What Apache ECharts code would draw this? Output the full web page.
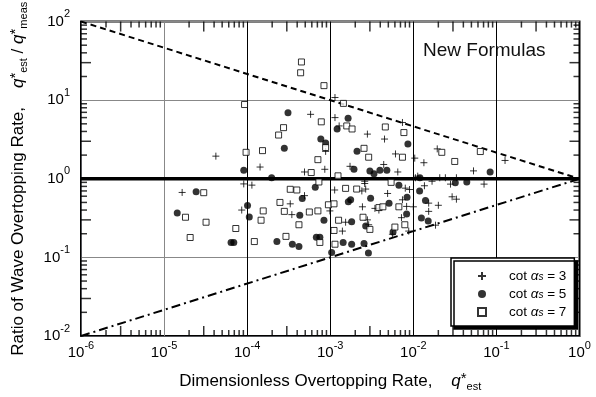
<!DOCTYPE html>
<html>
<head>
<meta charset="utf-8">
<script src="https://cdn.jsdelivr.net/npm/echarts@6/dist/echarts.min.js"></script>
<style>
html, body { margin: 0; padding: 0; background: #fff; }
#chart { width: 596px; height: 397px; }
</style>
</head>
<body>
<div id="chart"></div>
<script>
// --- data: [q*est, q*est/q*meas] ---
const cotValues = [3, 5, 7]

const cot3Points = [
  [4.2e-5, 1.94], [1.43e-4, 1.41], [9.1e-5, 0.86], [1.14e-4, 0.83], [1.65e-5, 0.67],
  [8.6e-5, 0.40], [5.8e-4, 6.6], [1.14e-3, 10.8], [1.14e-3, 6.0], [1.28e-3, 4.7],
  [2.8e-3, 3.7], [4.5e-3, 3.2], [7.4e-3, 5.2], [1.94e-2, 2.4], [6.1e-3, 2.07],
  [0.127, 1.71], [1.04e-2, 1.83], [1.34e-2, 1.6], [4.9e-4, 1.22], [8.6e-4, 1.32],
  [1.13e-3, 0.72], [2.4e-3, 0.70], [2.67e-3, 0.74], [2.6e-3, 0.93], [4.9e-4, 0.61],
  [3.3e-4, 0.48], [3.45e-4, 0.35], [9.9e-4, 0.39], [2.44e-3, 0.44], [3.45e-3, 0.42],
  [3.85e-3, 0.40], [1.4e-3, 0.216], [1.53e-3, 0.28], [2.8e-3, 0.30], [2.9e-3, 0.26],
  [6.5e-3, 1.22], [5.3e-2, 1.26], [1.06e-2, 1.03], [1.68e-2, 0.93], [2.08e-2, 1.03],
  [2.43e-2, 1.03], [2.8e-2, 0.855], [7.1e-2, 0.855], [1.36e-2, 0.815], [8.0e-3, 0.76],
  [9.0e-3, 0.73], [2.93e-2, 0.59], [3.3e-2, 0.55], [2.0e-2, 0.46], [1.53e-2, 0.49],
  [7.4e-3, 0.54], [8.3e-3, 0.445], [1.0e-2, 0.44], [7.2e-3, 0.32], [1.53e-2, 0.385],
  [5.6e-3, 0.197], [1.85e-2, 0.257], [2.6e-3, 0.87], [4.9e-3, 0.65], [8.8e-3, 0.216],
  [1.13e-2, 1.08], [3.3e-2, 1.03], [1.73e-3, 1.44], [8.8e-4, 2.23], [4.4e-3, 1.52]
]

const cot5Points = [
  [3.1e-4, 6.9], [1.64e-3, 5.9], [1.21e-3, 4.3], [7.7e-4, 3.2], [8.8e-4, 2.85],
  [2.8e-4, 2.44], [2.1e-3, 2.24], [8.6e-3, 2.77], [9.1e-5, 1.28], [1.97e-4, 1.03],
  [2.43e-5, 0.685], [1.44e-5, 0.367], [1.01e-4, 0.458], [1.06e-4, 0.327], [6.4e-5, 0.155],
  [6.9e-5, 0.155], [1.93e-3, 1.32], [3.0e-3, 1.26], [3.36e-3, 1.16], [3.96e-3, 1.28],
  [4.8e-3, 1.28], [6.6e-4, 0.78], [4.6e-4, 0.56], [1.76e-3, 0.54], [1.65e-3, 0.51],
  [3.06e-3, 0.566], [4.3e-4, 0.343], [8.4e-4, 0.297], [1.81e-3, 0.283], [2.67e-3, 0.25],
  [6.8e-4, 0.18], [7.5e-4, 0.18], [2.28e-4, 0.159], [3.5e-4, 0.147], [4.2e-4, 0.138],
  [1.43e-3, 0.155], [1.81e-3, 0.147], [2.55e-3, 0.15], [1.04e-3, 0.115], [2.88e-3, 0.114],
  [8.4e-2, 1.22], [6.7e-3, 0.83], [5.1e-3, 0.49], [1.19e-2, 0.70], [3.2e-2, 0.89],
  [4.4e-2, 0.91], [8.4e-3, 0.58], [1.4e-2, 0.53], [8.3e-3, 0.357], [1.25e-2, 0.318],
  [1.51e-2, 0.29], [5.7e-3, 0.21], [1.2e-2, 1.03]
]

const cot7Points = [
  [4.5e-4, 30.6], [4.4e-4, 22.3], [8.4e-4, 15.3], [1.44e-3, 9.1], [9.3e-5, 8.8],
  [7.8e-4, 5.3], [2.74e-4, 4.47], [2.39e-4, 3.6], [1.58e-3, 4.7], [1.83e-3, 4.3],
  [8.8e-4, 2.5], [2.55e-3, 2.44], [4.6e-3, 4.56], [7.7e-3, 3.87], [2.2e-2, 2.17],
  [6.4e-2, 2.22], [3.15e-2, 1.66], [9.7e-5, 2.17], [1.53e-4, 2.28], [3.0e-5, 0.665],
  [1.81e-5, 0.324], [3.2e-5, 0.28], [2.06e-5, 0.179], [7.3e-5, 0.233], [1.22e-4, 0.159],
  [1.47e-4, 0.297], [1.56e-4, 0.39], [7.1e-4, 1.75], [5.9e-4, 1.2], [7.3e-4, 0.91],
  [1.24e-3, 1.09], [3.3e-4, 0.735], [3.96e-4, 0.72], [1.53e-3, 0.755], [2.08e-3, 0.74],
  [2.48e-4, 0.5], [2.8e-4, 0.385], [5.6e-4, 0.378], [7.1e-4, 0.39], [4.2e-4, 0.26],
  [9.5e-4, 0.467], [1.11e-3, 0.48], [1.26e-3, 0.297], [1.11e-3, 0.22], [2.93e-4, 0.185],
  [7.5e-4, 0.155], [1.14e-3, 0.147], [2.48e-3, 0.324], [3.0e-3, 0.227], [3.85e-3, 0.43],
  [4.3e-3, 0.44], [5.4e-3, 0.9], [7.4e-3, 1.88], [6.7e-3, 0.44], [6.0e-3, 0.243],
  [7.9e-3, 0.26], [2.9e-3, 1.88]
]

// reference lines (factor bounds and perfect agreement)
const upperBound = [[1e-6, 100], [1, 1]]
const lowerBound = [[1e-6, 0.01], [1, 1]]
const unityLine = [[1e-6, 1], [1, 1]]

const X_MIN = 1e-6
const X_MAX = 1
const Y_MIN = 0.01
const Y_MAX = 100
const xDecades = [-6, -5, -4, -3, -2, -1]
const yDecades = [-2, -1, 0, 1]
const minorSteps = [2, 3, 4, 5, 6, 7, 8, 9]

const FONT = '"Liberation Sans", Arial, Helvetica, sans-serif'
const PLUS = 'path://M0,5L10,5M5,0L5,10'

// minor ticks (inside, on all four sides), thin rect symbols placed on the border
const minorTicks = []
xDecades.forEach(e => minorSteps.forEach(k => {
  const v = k * Math.pow(10, e)
  const len = k === 3 ? 10 : 6
  minorTicks.push({ value: [v, Y_MIN], symbolSize: [1.5, len], symbolOffset: [0, -len / 2] })
  minorTicks.push({ value: [v, Y_MAX], symbolSize: [1.5, len], symbolOffset: [0, len / 2] })
}))
yDecades.forEach(e => minorSteps.forEach(k => {
  const v = k * Math.pow(10, e)
  const len = k === 3 ? 10 : 6
  minorTicks.push({ value: [X_MIN, v], symbolSize: [len, 1.5], symbolOffset: [len / 2, 0] })
  minorTicks.push({ value: [X_MAX, v], symbolSize: [len, 1.5], symbolOffset: [-len / 2, 0] })
}))

const powRich = {
  b: { fontSize: 15, fontFamily: FONT, color: '#000' },
  s: { fontSize: 11, fontFamily: FONT, color: '#000', padding: [0, 0, 15, 0] }
}
function powLabel (value) {
  return '{b|10}{s|' + Math.round(Math.log10(value)) + '}'
}

const nameRich = {
  t: { fontSize: 17, fontFamily: FONT, color: '#000' },
  q: { fontSize: 17, fontFamily: FONT, fontStyle: 'italic', color: '#000' },
  st: { fontSize: 15, fontFamily: FONT, color: '#000', padding: [0, 0, 6, 0] },
  sub: { fontSize: 11, fontFamily: FONT, color: '#000', padding: [10, 0, 0, 0] }
}

const legendRich = {
  t: { fontSize: 13.5, fontFamily: FONT, color: '#000' },
  pad: { width: 18 },
  a: { fontSize: 13.5, fontFamily: FONT, fontStyle: 'italic', color: '#000' },
  s: { fontSize: 10, fontFamily: FONT, fontStyle: 'italic', color: '#000', padding: [3, 0, 0, 0] }
}

const seriesNames = cotValues.map(v => 'cot ' + v)
const markerStyle = [
  { symbol: PLUS, symbolSize: 7, itemStyle: { color: '#000', borderColor: '#000', borderWidth: 1 } },
  { symbol: 'circle', symbolSize: 7, itemStyle: { color: '#000', borderWidth: 0 } },
  { symbol: 'rect', symbolSize: 6, itemStyle: { color: '#fff', borderColor: '#000', borderWidth: 1 } }
]
const pointSets = [cot3Points, cot5Points, cot7Points]

const chart = echarts.init(document.getElementById('chart'))

const option = {
  animation: false,
  grid: {
    left: 80, right: 16.5, top: 19, bottom: 58.5,
    show: true, borderColor: '#000', borderWidth: 2
  },
  xAxis: {
    type: 'log', logBase: 10, min: X_MIN, max: X_MAX,
    axisTick: { show: false },
    splitLine: { show: true, lineStyle: { color: ['#000', '#888', '#000', '#000', '#000', '#000', '#000'], width: 1 } },
    axisLabel: { formatter: powLabel, rich: powRich, margin: 4 },
    name: '{t|Dimensionless Overtopping Rate,    }{q|q}{st|*}{sub|est}',
    nameLocation: 'middle', nameGap: 35,
    nameTextStyle: { rich: nameRich }
  },
  yAxis: {
    type: 'log', logBase: 10, min: Y_MIN, max: Y_MAX,
    axisTick: { show: false },
    splitLine: { show: true, lineStyle: { color: '#888', width: 1.2 } },
    axisLabel: { formatter: powLabel, rich: powRich, margin: 11 },
    name: '{t|Ratio of Wave Overtopping Rate,    }{q|q}{st|*}{sub|est}{t| / }{q|q}{st|*}{sub|meas}',
    nameLocation: 'middle', nameGap: 52, nameRotate: 90,
    nameTextStyle: { rich: nameRich }
  },
  legend: {
    data: seriesNames.map((n, i) => ({ name: n, icon: markerStyle[i].symbol })),
    orient: 'vertical', left: 451, top: 258,
    padding: [10, 8, 6, 26], itemGap: 2, itemWidth: 8, itemHeight: 8,
    backgroundColor: '#fff', borderColor: '#000', borderWidth: 1.5,
    shadowColor: '#000', shadowBlur: 0, shadowOffsetX: 3, shadowOffsetY: 3,
    formatter: name => '{pad|}{t|cot }{a|α}{s|s}{t| = ' + name.split(' ')[1] + '}',
    textStyle: { rich: legendRich, lineHeight: 16 }
  },
  graphic: [{
    type: 'text', left: 423, top: 41,
    style: { text: 'New Formulas', fontSize: 19, fontFamily: FONT, fill: '#111' }
  }],
  series: [
    {
      name: 'upper', type: 'line', data: upperBound, showSymbol: false,
      lineStyle: { color: '#000', width: 2, type: [6, 4] }
    },
    {
      name: 'lower', type: 'line', data: lowerBound, showSymbol: false,
      lineStyle: { color: '#000', width: 2, type: [9, 4, 2, 4] }
    },
    {
      name: 'unity', type: 'line', data: unityLine, showSymbol: false,
      lineStyle: { color: '#000', width: 3.5 }
    },
    {
      name: 'ticks', type: 'scatter', data: minorTicks, symbol: 'rect', clip: false,
      itemStyle: { color: '#000' }
    }
  ].concat(pointSets.map((pts, i) => ({
    name: seriesNames[i],
    type: 'scatter',
    data: pts,
    symbol: markerStyle[i].symbol,
    symbolSize: markerStyle[i].symbolSize,
    itemStyle: markerStyle[i].itemStyle,
    z: 3
  })))
}

chart.setOption(option)
</script>
</body>
</html>
